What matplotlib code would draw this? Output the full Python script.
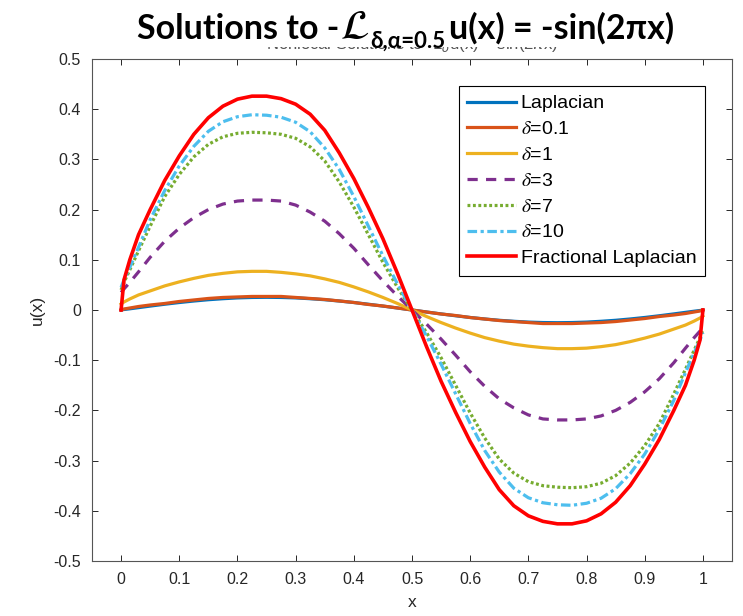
import matplotlib
matplotlib.use('Agg')
import matplotlib.pyplot as plt
from matplotlib.patches import Rectangle

# sample points along x (denser next to the boundaries)
x = [0, 0.005, 0.015, 0.03, 0.05, 0.075, 0.1, 0.125, 0.15, 0.175, 0.2, 0.225,
     0.25, 0.275, 0.3, 0.325, 0.35, 0.375, 0.4, 0.425, 0.45, 0.475, 0.5,
     0.525, 0.55, 0.575, 0.6, 0.625, 0.65, 0.675, 0.7, 0.725, 0.75, 0.775,
     0.8, 0.825, 0.85, 0.875, 0.9, 0.925, 0.95, 0.97, 0.985, 0.995, 1]

u_lap = [0, 0.001, 0.0024, 0.0047, 0.0078, 0.0115, 0.0149, 0.0179, 0.0205, 0.0225, 0.0241, 0.025,
         0.0253, 0.025, 0.0241, 0.0225, 0.0205, 0.0179, 0.0149, 0.0115, 0.0078, 0.004, 0,
         -0.004, -0.0078, -0.0115, -0.0149, -0.0179, -0.0205, -0.0225, -0.0241, -0.025, -0.0253, -0.025,
         -0.0241, -0.0225, -0.0205, -0.0179, -0.0149, -0.0115, -0.0078, -0.0047, -0.0024, -0.001, 0]
u_d01 = [0, 0.002, 0.004, 0.007, 0.010, 0.013, 0.017, 0.020, 0.023, 0.025, 0.026, 0.027,
         0.027, 0.027, 0.025, 0.023, 0.021, 0.018, 0.015, 0.011, 0.008, 0.004, 0,
         -0.004, -0.008, -0.011, -0.015, -0.018, -0.021, -0.023, -0.025, -0.027, -0.027, -0.027,
         -0.026, -0.025, -0.023, -0.020, -0.017, -0.013, -0.010, -0.007, -0.004, -0.002, 0]
u_d1 = [0.012, 0.016, 0.022, 0.030, 0.038, 0.048, 0.056, 0.063, 0.069, 0.073, 0.076, 0.077,
        0.077, 0.075, 0.072, 0.068, 0.062, 0.055, 0.046, 0.036, 0.025, 0.013, 0,
        -0.013, -0.025, -0.036, -0.046, -0.055, -0.062, -0.068, -0.072, -0.075, -0.077, -0.077,
        -0.076, -0.073, -0.069, -0.063, -0.056, -0.048, -0.038, -0.030, -0.022, -0.016, -0.012]
u_d3 = [0.035, 0.042, 0.055, 0.076, 0.105, 0.137, 0.163, 0.184, 0.200, 0.211, 0.217, 0.219,
        0.219, 0.217, 0.209, 0.195, 0.177, 0.152, 0.123, 0.090, 0.058, 0.028, 0,
        -0.028, -0.058, -0.090, -0.123, -0.152, -0.177, -0.195, -0.209, -0.217, -0.219, -0.219,
        -0.217, -0.211, -0.200, -0.184, -0.163, -0.137, -0.105, -0.076, -0.055, -0.042, -0.035]
u_d7 = [0.040, 0.055, 0.080, 0.118, 0.167, 0.226, 0.270, 0.305, 0.330, 0.345, 0.352, 0.354,
        0.353, 0.350, 0.342, 0.325, 0.297, 0.255, 0.205, 0.150, 0.095, 0.045, 0,
        -0.045, -0.095, -0.150, -0.205, -0.255, -0.297, -0.325, -0.342, -0.350, -0.353, -0.354,
        -0.352, -0.345, -0.330, -0.305, -0.270, -0.226, -0.167, -0.118, -0.080, -0.055, -0.040]
u_d10 = [0.045, 0.060, 0.085, 0.125, 0.180, 0.238, 0.287, 0.326, 0.356, 0.375, 0.385, 0.389,
         0.388, 0.384, 0.374, 0.355, 0.323, 0.280, 0.226, 0.167, 0.108, 0.052, 0,
         -0.052, -0.108, -0.167, -0.226, -0.280, -0.323, -0.355, -0.374, -0.384, -0.388, -0.389,
         -0.385, -0.375, -0.356, -0.326, -0.287, -0.238, -0.180, -0.125, -0.085, -0.060, -0.045]
u_frac = [0, 0.060, 0.100, 0.150, 0.200, 0.258, 0.307, 0.350, 0.383, 0.406, 0.420, 0.426,
          0.426, 0.421, 0.410, 0.390, 0.358, 0.313, 0.262, 0.204, 0.142, 0.073, 0,
          -0.073, -0.142, -0.204, -0.262, -0.313, -0.358, -0.390, -0.410, -0.421, -0.426, -0.426,
          -0.420, -0.406, -0.383, -0.350, -0.307, -0.258, -0.200, -0.150, -0.100, -0.060, 0]

labels = ['Laplacian', r'$\delta$=0.1', r'$\delta$=1', r'$\delta$=3',
          r'$\delta$=7', r'$\delta$=10', 'Fractional Laplacian']
xticks = [0, 0.1, 0.2, 0.3, 0.4, 0.5, 0.6, 0.7, 0.8, 0.9, 1]
xticklabels = ['0', '0.1', '0.2', '0.3', '0.4', '0.5', '0.6', '0.7', '0.8', '0.9', '1']
yticks = [-0.5, -0.4, -0.3, -0.2, -0.1, 0, 0.1, 0.2, 0.3, 0.4, 0.5]
yticklabels = ['-0.5', '-0.4', '-0.3', '-0.2', '-0.1', '0', '0.1', '0.2', '0.3', '0.4', '0.5']

plt.rcParams['font.family'] = ['Liberation Sans', 'DejaVu Sans']
plt.rcParams['axes.unicode_minus'] = False

fig = plt.figure(figsize=(7.43, 6.16), dpi=100)
ax = fig.add_axes([92 / 743, 55 / 616, 640 / 743, 502 / 616])

lw = 2.3
ax.plot(x, u_lap, color='#0072BD', lw=lw, label=labels[0])
ax.plot(x, u_d01, color='#D95319', lw=lw, label=labels[1])
ax.plot(x, u_d1, color='#EDB120', lw=lw, label=labels[2])
ax.plot(x, u_d3, color='#7E2F8E', lw=lw, dashes=(3.2, 2.6), label=labels[3])
ax.plot(x, u_d7, color='#77AC30', lw=lw, dashes=(0.9, 0.8), label=labels[4])
ax.plot(x, u_d10, color='#4DBEEE', lw=lw, dashes=(3.0, 1.1, 1.0, 1.1), label=labels[5])
ax.plot(x, u_frac, color='#FF0000', lw=lw + 0.3, label=labels[6])

ax.set_xlim(-0.05, 1.05)
ax.set_ylim(-0.5, 0.5)
ax.set_xticks(xticks)
ax.set_xticklabels(xticklabels)
ax.set_yticks(yticks)
ax.set_yticklabels(yticklabels)
ax.tick_params(direction='in', length=4.5, width=0.7, top=True, right=True,
               labelsize=11.5, colors='#262626', pad=8)
for s in ax.spines.values():
    s.set_color('#555555')
    s.set_linewidth(0.8)
ax.set_xlabel('x', fontsize=12.5, color='#262626', labelpad=6)
ax.set_ylabel('u(x)', fontsize=12.5, color='#262626', labelpad=6)

leg = ax.legend(loc='upper right', bbox_to_anchor=(0.958, 0.946), borderaxespad=0,
                fontsize=14, handlelength=2.5, handletextpad=0.25, labelspacing=0.42,
                borderpad=0.45, fancybox=False, framealpha=1, edgecolor='black')
leg.get_frame().set_linewidth(0.8)
for t in leg.get_texts():
    t.set_math_fontfamily('stix')

# original MATLAB title, mostly hidden under the slide title
ax.set_title(r'Nonlocal Solutions to -L$_{\delta}$u(x) = sin(2$\pi$x)', fontsize=12,
             color='#555555', pad=7)
fig.add_artist(Rectangle((0, 1 - 47 / 616), 1, 47 / 616, transform=fig.transFigure,
                         facecolor='white', edgecolor='none', zorder=2))

# slide title built from pieces
renderer = fig.canvas.get_renderer()
pieces = [('Solutions to -', 24.5, 0, 0),
          (r'$\mathcal{L}$', 30, 0, 0),
          ('\u03b4,\u03b1=0.5', 16, -9, 2),
          ('u(x) = -sin(2\u03c0x)', 24.5, 0, 0)]
xpos = 137 / 743
base = 1 - 39 / 616
for txt, size, dy, gap in pieces:
    t = fig.text(xpos, base + dy / 616, txt, fontsize=size, fontweight='bold',
                 family=['Lato', 'DejaVu Sans'], math_fontfamily='stix',
                 ha='left', va='baseline', color='black', zorder=3)
    bb = t.get_window_extent(renderer)
    xpos += (bb.width + 1 + gap) / fig.bbox.width

fig.savefig('out.png', dpi=100)
